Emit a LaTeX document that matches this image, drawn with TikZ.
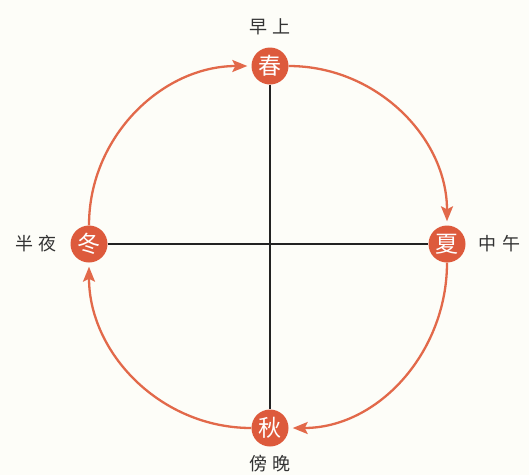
\documentclass[tikz,border=0pt]{standalone}
\usepackage{fontspec}
\newfontfamily\cjk{Noto Sans CJK SC}
\usetikzlibrary{arrows.meta}
\definecolor{seasonred}{HTML}{DD5A3C}
\definecolor{arcred}{HTML}{E2694A}
\definecolor{bgcream}{HTML}{FDFDF8}
\definecolor{axisgray}{HTML}{222222}
\definecolor{labelgray}{HTML}{333333}
\newcommand{\gapch}{\hspace{6pt}}
\tikzset{
  season/.style={circle, fill=seasonred, text=white, minimum size=37pt, inner sep=0pt, font=\cjk\fontsize{23}{23}\selectfont},
  timelabel/.style={text=labelgray, font=\cjk\fontsize{18}{18}\selectfont, inner sep=0pt},
  axis/.style={draw=axisgray, line width=2.6pt},
  cycle/.style={draw=arcred, line width=2.3pt, -{Stealth[length=15pt,width=12pt,inset=3pt]}, shorten >=4pt}
}
\begin{document}
\begin{tikzpicture}[x=1pt,y=-1pt]
\fill[bgcream] (0,0) rectangle (529,475);
\useasboundingbox (0,0) rectangle (529,475);
\node[season] (n) at (270,66) {春};
\node[season] (e) at (447,244) {夏};
\node[season] (s) at (270,428) {秋};
\node[season] (w) at (89,244) {冬};
\draw[axis] (n) -- (s);
\draw[axis] (w) -- (e);
\draw[cycle] (n) to[out=0,in=90] (e);
\draw[cycle] (e) to[out=-90,in=0] (s);
\draw[cycle] (s) to[out=180,in=-90] (w);
\draw[cycle] (w) to[out=90,in=180] (n);
\node[timelabel] (ln) at (270,27) {早\gapch 上};
\node[timelabel] (le) at (499,244) {中\gapch 午};
\node[timelabel] (lw) at (36,244) {半\gapch 夜};
\node[timelabel] (ls) at (270,464) {傍\gapch 晚};
\end{tikzpicture}
\end{document}
